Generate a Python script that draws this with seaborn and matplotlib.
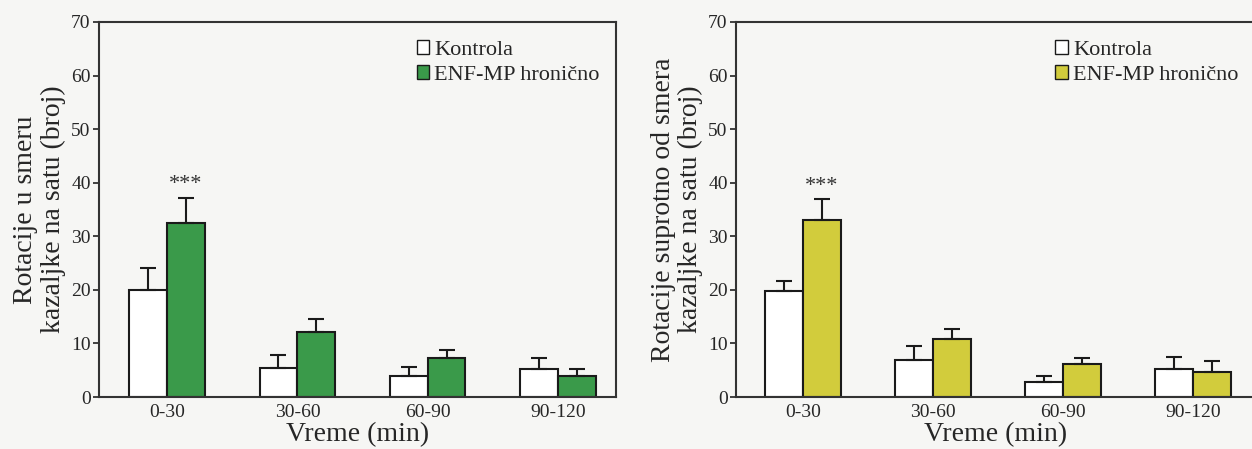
import matplotlib
matplotlib.use("Agg")
import matplotlib.pyplot as plt
import seaborn as sns
import pandas as pd
import numpy as np

# ---- data ----
categories = ["0-30", "30-60", "60-90", "90-120"]
groups = ["Kontrola", "ENF-MP hronično"]

left_kontrola = [20.0, 5.5, 4.0, 5.3]
left_kontrola_err = [4.0, 2.3, 1.6, 2.0]
left_enf = [32.5, 12.2, 7.3, 4.0]
left_enf_err = [4.7, 2.4, 1.5, 1.3]

right_kontrola = [19.7, 7.0, 2.8, 5.2]
right_kontrola_err = [2.0, 2.5, 1.1, 2.3]
right_enf = [33.0, 10.8, 6.1, 4.7]
right_enf_err = [4.0, 1.9, 1.1, 2.0]

left_ylabel = "Rotacije u smeru\nkazaljke na satu (broj)"
right_ylabel = "Rotacije suprotno od smera\nkazaljke na satu (broj)"
xlabel = "Vreme (min)"
yticks = [0, 10, 20, 30, 40, 50, 60, 70]
signif = "***"

sns.set_theme(style="white")
plt.rcParams["font.family"] = ["Liberation Serif", "DejaVu Serif"]

bg = "#f6f6f4"
fig = plt.figure(figsize=(12.52, 4.49), dpi=100, facecolor=bg)
ax1 = fig.add_axes([99/1252, 1-397/449, (616-99)/1252, (397-22)/449])
ax2 = fig.add_axes([736/1252, 1-397/449, (1256-736)/1252, (397-22)/449])


def make_df(k, ke, e, ee):
    rows = []
    for c, v, er in zip(categories, k, ke):
        rows.append({"time": c, "group": groups[0], "value": v, "err": er})
    for c, v, er in zip(categories, e, ee):
        rows.append({"time": c, "group": groups[1], "value": v, "err": er})
    return pd.DataFrame(rows)


def draw(ax, df, color, ylabel, xlim, label_x):
    ax.set_facecolor(bg)
    sns.barplot(data=df, x="time", y="value", hue="group", order=categories,
                hue_order=groups, palette=["white", color], width=0.58,
                edgecolor="#1a1a1a", linewidth=1.5, errorbar=None, ax=ax,
                saturation=1)
    bars = list(ax.patches)[:8]
    for gi, g in enumerate(groups):
        sub = df[df.group == g].set_index("time").loc[categories]
        xs = [bars[gi*4 + i].get_x() + bars[gi*4 + i].get_width()/2 for i in range(4)]
        ax.errorbar(xs, sub["value"].values,
                    yerr=[np.zeros(4), sub["err"].values],
                    fmt="none", ecolor="#1a1a1a", elinewidth=1.5,
                    capsize=6, capthick=1.5, zorder=1)
    sub = df[(df.group == groups[1]) & (df.time == categories[0])].iloc[0]
    b = bars[4]
    ax.text(b.get_x() + b.get_width()/2, sub.value + sub.err + 0.6, signif,
            ha="center", va="bottom", fontsize=16, color="#333333")
    ax.set_ylim(0, 70)
    ax.set_yticks(yticks)
    ax.set_xlim(*xlim)
    ax.set_xlabel(xlabel, fontsize=20, labelpad=1)
    ax.set_ylabel(ylabel, fontsize=20, linespacing=1.12)
    ax.yaxis.set_label_coords(label_x, 0.5)
    ax.tick_params(axis="y", direction="out", length=4, width=1.2,
                   labelsize=14, color="#222222", pad=2, left=True)
    ax.tick_params(axis="x", length=0, labelsize=14, pad=5)
    for s in ax.spines.values():
        s.set_color("#333333")
        s.set_linewidth(1.5)
    h, l = ax.get_legend_handles_labels()
    for hh in h:
        hh.set_linewidth(1.0)
    ax.legend(h, l, loc="upper left", bbox_to_anchor=(0.597, 0.975), frameon=False,
              fontsize=16, handlelength=0.55, handleheight=0.55,
              handletextpad=0.25, labelspacing=0.25, borderaxespad=0)


draw(ax1, make_df(left_kontrola, left_kontrola_err, left_enf, left_enf_err),
     "#3a9a4a", left_ylabel, (-0.523, 3.446), -0.064)
draw(ax2, make_df(right_kontrola, right_kontrola_err, right_enf, right_enf_err),
     "#d2cc3c", right_ylabel, (-0.515, 3.485), -0.063)

fig.savefig("out.png", dpi=100, facecolor=bg)
